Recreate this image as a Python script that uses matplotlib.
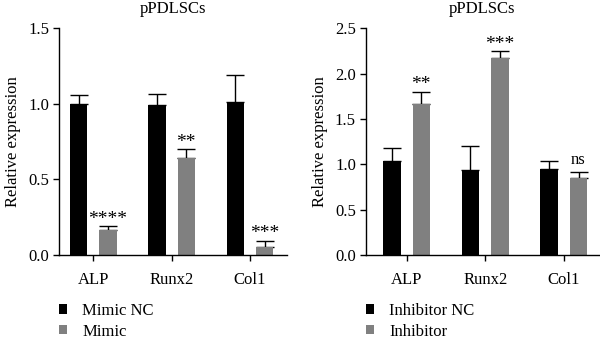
import matplotlib
matplotlib.use("Agg")
import matplotlib.pyplot as plt
import numpy as np

plt.rcParams['font.family'] = ['Liberation Serif', 'DejaVu Serif']

categories = ["ALP", "Runx2", "Col1"]

# Left panel
left_title = "pPDLSCs"
left_labels = ["Mimic NC", "Mimic"]
left_nc = [1.00, 0.99, 1.01]
left_nc_err = [0.06, 0.075, 0.18]
left_tr = [0.163, 0.64, 0.053]
left_tr_err = [0.027, 0.06, 0.042]
left_sig = ["****", "**", "***"]
left_yticks = [0.0, 0.5, 1.0, 1.5]

# Right panel
right_title = "pPDLSCs"
right_labels = ["Inhibitor NC", "Inhibitor"]
right_nc = [1.04, 0.937, 0.948]
right_nc_err = [0.145, 0.27, 0.092]
right_tr = [1.67, 2.17, 0.848]
right_tr_err = [0.13, 0.078, 0.063]
right_sig = ["**", "***", "ns"]
right_yticks = [0.0, 0.5, 1.0, 1.5, 2.0, 2.5]

BLACK = "#000000"
GRAY = "#808080"

fig = plt.figure(figsize=(6.0, 3.38), dpi=100)


def panel(rect, nc, nc_err, tr, tr_err, sig, yticks, labels, title, xlim, leg_x):
    ax = fig.add_axes(rect)
    x = np.arange(len(categories))
    w = 0.22
    off = 0.187
    ax.errorbar(x - off, nc, yerr=[np.zeros(len(nc)), nc_err], fmt='none',
                ecolor='black', elinewidth=1.0, capsize=6.5, capthick=1.0, zorder=1)
    ax.errorbar(x + off, tr, yerr=[np.zeros(len(tr)), tr_err], fmt='none',
                ecolor='black', elinewidth=1.0, capsize=6.5, capthick=1.0, zorder=1)
    ax.bar(x - off, nc, width=w, color=BLACK, label=labels[0], zorder=2)
    ax.bar(x + off, tr, width=w, color=GRAY, label=labels[1], zorder=2)
    for xi, v, e, s in zip(x + off, tr, tr_err, sig):
        if s == "ns":
            ax.annotate(s, (xi, v + e), xytext=(0, 3), textcoords='offset points',
                        ha='center', va='bottom', fontsize=12)
        else:
            ax.annotate(s, (xi, v + e), xytext=(0, -1), textcoords='offset points',
                        ha='center', va='bottom', fontsize=14)
    ax.set_xlim(*xlim)
    ax.set_ylim(0, yticks[-1])
    ax.set_yticks(yticks)
    ax.set_yticklabels([f"{t:.1f}" for t in yticks])
    ax.set_xticks(x)
    ax.set_xticklabels(categories)
    for sp in ["top", "right"]:
        ax.spines[sp].set_visible(False)
    for sp in ["left", "bottom"]:
        ax.spines[sp].set_linewidth(1.0)
    ax.tick_params(axis='both', direction='out', length=4, width=1.0, labelsize=12, pad=3)
    ax.tick_params(axis='x', pad=8)
    ax.set_ylabel("Relative expression", fontsize=12, labelpad=5)
    ax.set_title(title, fontsize=12, pad=11)
    ax.legend(loc='upper left', bbox_to_anchor=(leg_x, -0.212), frameon=False,
              fontsize=12, handlelength=0.5, handleheight=0.5, handletextpad=0.9,
              labelspacing=0.28, borderaxespad=0, borderpad=0)
    return ax


panel([0.098, 0.246, 0.380, 0.670], left_nc, left_nc_err, left_tr, left_tr_err,
      left_sig, left_yticks, left_labels, left_title, (-0.44, 2.47), 0.0)
panel([0.6095, 0.246, 0.3885, 0.670], right_nc, right_nc_err, right_tr, right_tr_err,
      right_sig, right_yticks, right_labels, right_title, (-0.52, 2.445), 0.0)

fig.savefig("out.png", dpi=100)
